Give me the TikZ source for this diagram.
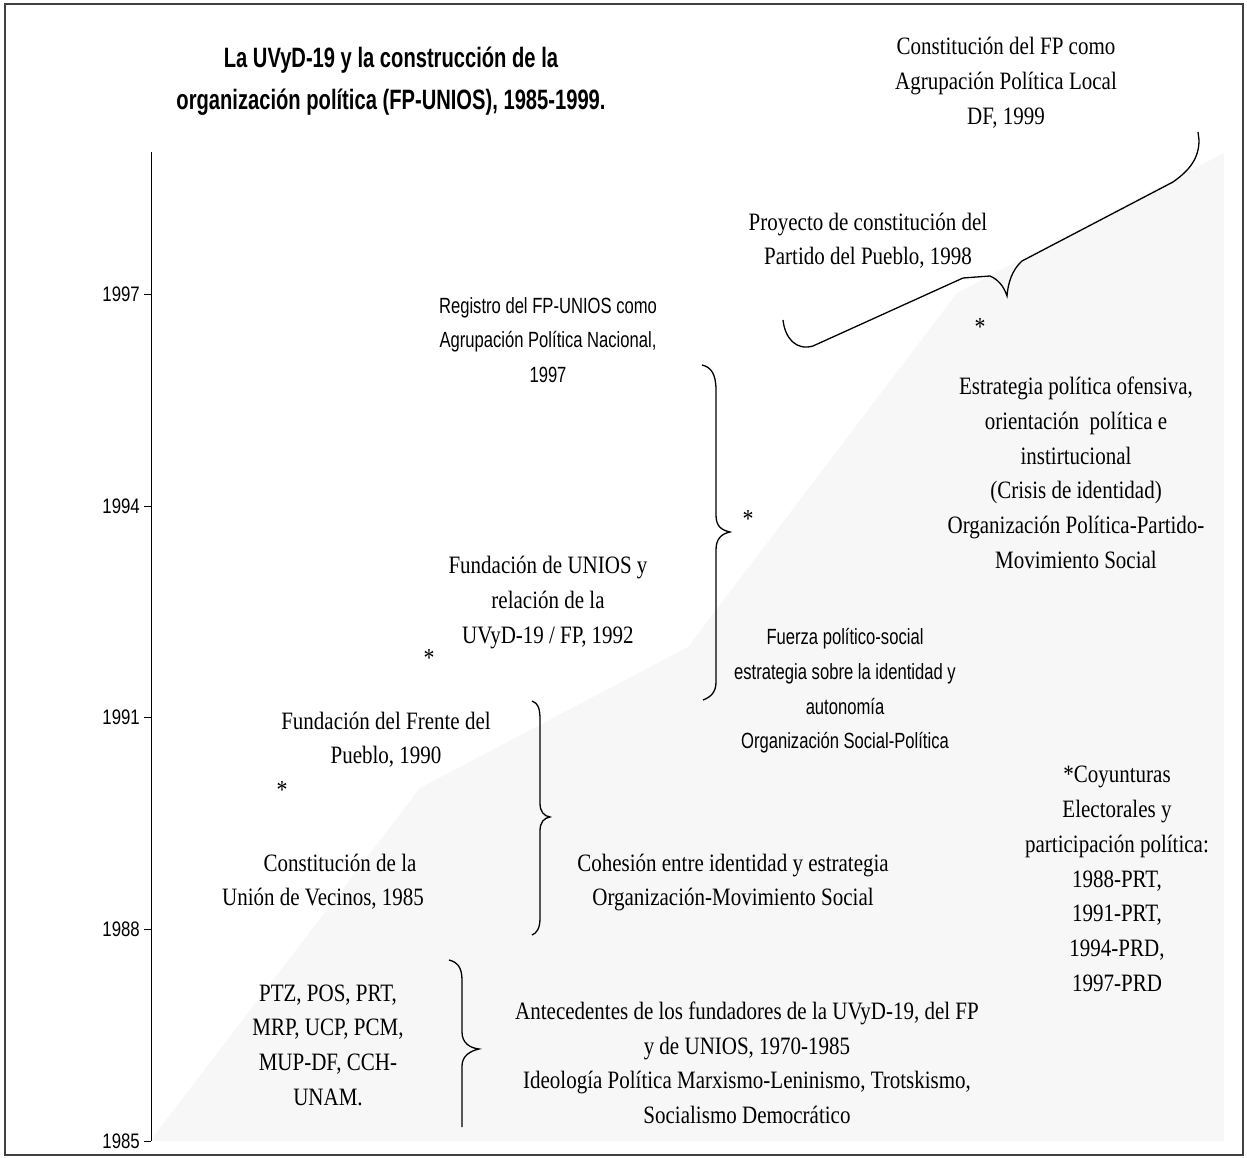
\documentclass[tikz,border=0pt]{standalone}
\usepackage{fontspec}
\setmainfont{Liberation Serif}
\newfontfamily\tnr[FakeStretch=0.84]{Liberation Serif}
\newfontfamily\arn[FakeStretch=0.755]{Liberation Sans}
\newfontfamily\ttlf[FakeStretch=0.72]{Liberation Sans}
\newfontfamily\tickf[FakeStretch=0.8]{Liberation Sans}
\definecolor{areagrey}{HTML}{F7F7F7}
\begin{document}
\begin{tikzpicture}[x=1pt,y=-1pt,
  serif/.style={font=\tnr\fontsize{25}{34.7}\selectfont, align=center, inner sep=0pt,
    execute at begin node=\strut, execute at end node=\strut},
  sans/.style={font=\arn\fontsize{22}{34.7}\selectfont, align=center, inner sep=0pt,
    execute at begin node=\strut, execute at end node=\strut},
  ttl/.style={font=\ttlf\bfseries\fontsize{28}{42}\selectfont, align=center, inner sep=0pt,
    execute at begin node=\strut, execute at end node=\strut},
  ticklab/.style={font=\tickf\fontsize{21}{24}\selectfont, inner sep=0pt, anchor=east},
  star/.style={font=\tnr\fontsize{26}{26}\selectfont, inner sep=0pt},
  brace/.style={line width=1.3pt, black},
  axisline/.style={line width=1pt, black}]
\useasboundingbox (0,0) rectangle (1247,1158);
% frame
\draw[line width=1.2pt, black!75] (5,4) rectangle (1243,1155);
% grey area
\fill[areagrey] (150,1141) -- (420,788) -- (688,647) -- (957,293) -- (1224,153) -- (1224,1141) -- cycle;
% axis
\coordinate (axtop) at (151,152);
\coordinate (axbot) at (151,1141);
\draw[axisline] (axtop) -- (axbot);
\foreach \yr/\yy in {1985/1141,1988/929,1991/717,1994/506,1997/294}{
  \draw[axisline] (144,\yy) -- (151,\yy);
  \node[ticklab] (t\yr) at (140,\yy) {\yr};
}
% title
\node[ttl] (title) at (391,85) {La UVyD-19 y la construcción de la\\organización política (FP-UNIOS), 1985-1999.};
% texts
\node[serif] (fp99) at (1006,86) {Constitución del FP como\\Agrupación Política Local\\DF, 1999};
\node[serif] (pp98) at (868,244) {Proyecto de constitución del\\Partido del Pueblo, 1998};
\node[sans] (reg97) at (548,345) {Registro del FP-UNIOS como\\Agrupación Política Nacional,\\1997};
\node[serif] (estr) at (1076,478) {Estrategia política ofensiva,\\orientación\ \ política e\\instirtucional\\(Crisis de identidad)\\Organización Política-Partido-\\Movimiento Social};
\node[serif] (unios) at (548,605) {Fundación de UNIOS y\\relación de la\\UVyD-19 / FP, 1992};
\node[sans] (fuerza) at (845,694) {Fuerza político-social\\estrategia sobre la identidad y\\autonomía\\Organización Social-Política};
\node[serif] (frente) at (386,743) {Fundación del Frente del\\Pueblo, 1990};
\node[serif] (uv85) at (323,885) {\hspace*{34pt}Constitución de la\\Unión de Vecinos, 1985};
\node[serif] (coh) at (733,885) {Cohesión entre identidad y estrategia\\Organización-Movimiento Social};
\node[serif] (coy) at (1117,884) {*Coyunturas\\Electorales y\\participación política:\\1988-PRT,\\1991-PRT,\\1994-PRD,\\1997-PRD};
\node[serif] (ptz) at (328,1050) {PTZ, POS, PRT,\\MRP, UCP, PCM,\\MUP-DF, CCH-\\UNAM.};
\node[serif] (ante) at (747,1068) {Antecedentes de los fundadores de la UVyD-19, del FP\\y de UNIOS, 1970-1985\hspace*{128pt}\\Ideología Política Marxismo-Leninismo, Trotskismo,\\Socialismo Democrático};
% asterisks
\node[star] (s1) at (980,327) {*};
\node[star] (s2) at (748,519) {*};
\node[star] (s3) at (429,658) {*};
\node[star] (s4) at (282,790) {*};
% braces
\draw[brace] (783,320) .. controls (785,338) and (796,351) .. (813,346) -- (963,278) -- (990,276)
  .. controls (999,280) and (1004,287) .. (1007,296) .. controls (1008,283) and (1012,270) .. (1022,261)
  -- (1173,182) .. controls (1190,170) and (1199,158) .. (1199,140) -- (1198,132);
\draw[brace] (702,365) .. controls (711,367) and (716,374) .. (716,390) -- (716,515)
  .. controls (716,526) and (721,530) .. (730,532) .. controls (721,534) and (716,539) .. (716,550)
  -- (716,682) .. controls (716,692) and (711,697) .. (703,700);
\draw[brace] (532,701) .. controls (538,703) and (540,708) .. (540,720) -- (540,803)
  .. controls (540,812) and (544,816) .. (550,817) .. controls (544,818) and (540,822) .. (540,831)
  -- (540,918) .. controls (540,928) and (537,933) .. (532,935);
\draw[brace] (449,960) .. controls (457,962) and (462,967) .. (462,980) -- (462,1032)
  .. controls (462,1043) and (470,1048) .. (479,1049) .. controls (470,1051) and (462,1056) .. (462,1066)
  -- (462,1127);
\end{tikzpicture}
\end{document}
